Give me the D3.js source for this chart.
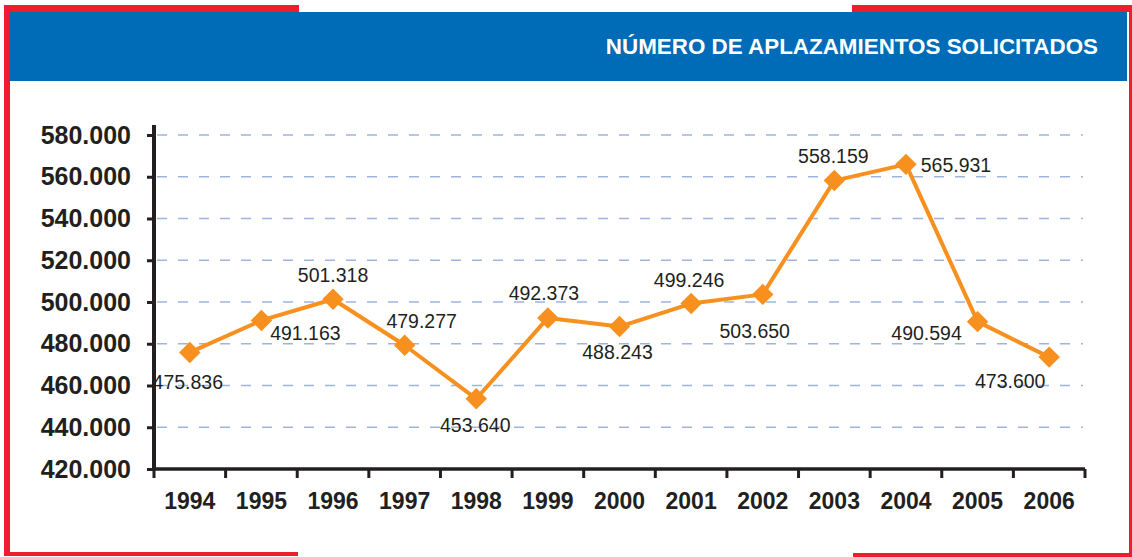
<!DOCTYPE html>
<html>
<head>
<meta charset="utf-8">
<script src="https://cdn.jsdelivr.net/npm/d3@7"></script>
<style>
  html, body { margin: 0; padding: 0; background: #ffffff; }
  svg { display: block; }
</style>
</head>
<body>
<svg id="chart" width="1132" height="557"></svg>
<script>
// ---- data ----
const title = "NÚMERO DE APLAZAMIENTOS SOLICITADOS";
const years = ["1994","1995","1996","1997","1998","1999","2000","2001","2002","2003","2004","2005","2006"];
const requests = [475836, 491163, 501318, 479277, 453640, 492373, 488243, 499246, 503650, 558159, 565931, 490594, 473600];
const valueLabels = ["475.836","491.163","501.318","479.277","453.640","492.373","488.243","499.246","503.650","558.159","565.931","490.594","473.600"];
const yTicks = [420000, 440000, 460000, 480000, 500000, 520000, 540000, 560000, 580000];

// label placement relative to each marker (layout, not data)
const labelDx = [-2, 44, 0, 17, -1, -4, -2, -2, -8, -1, 50, -51, -39];
const labelDy = [37, 20, -17, -17, 33, -18, 32, -17, 44, -18, 8, 18, 31];

(function () {
const svg = d3.select("#chart");
const RED = "#ed1c2e", BLUE = "#006bb6", ORANGE = "#f7901e", INK = "#231f20";
const FONT = "Liberation Sans, Arial, sans-serif";

// ---- frame ----
const frame = svg.append("g");
frame.append("rect").attr("x", 4).attr("y", 5).attr("width", 295).attr("height", 7).attr("fill", RED);
frame.append("rect").attr("x", 852).attr("y", 5).attr("width", 280).attr("height", 7).attr("fill", RED);
frame.append("rect").attr("x", 4).attr("y", 5).attr("width", 6).attr("height", 551).attr("fill", RED);
frame.append("rect").attr("x", 1129).attr("y", 5).attr("width", 3).attr("height", 552).attr("fill", RED);
frame.append("rect").attr("x", 4).attr("y", 552).attr("width", 294).attr("height", 4).attr("fill", RED);
frame.append("rect").attr("x", 853).attr("y", 553).attr("width", 279).attr("height", 4).attr("fill", RED);
frame.append("rect").attr("x", 10).attr("y", 12).attr("width", 1117).attr("height", 69).attr("fill", BLUE);
frame.append("text").attr("x", 1098).attr("y", 54).attr("text-anchor", "end")
  .attr("font-family", FONT).attr("font-weight", "bold")
  .attr("font-size", 22.4).attr("fill", "#ffffff").text(title);

// ---- scales ----
const pLeft = 154, pRight = 1085, pTop = 135, pBottom = 469;
const x = d3.scaleBand().domain(years).range([pLeft, pRight]).padding(0);
const y = d3.scaleLinear().domain([420000, 580000]).range([pBottom, pTop]);
const cx = d => x(d) + x.bandwidth() / 2;

// ---- grid ----
svg.append("g").selectAll("line").data(yTicks.filter(t => t > 420000)).join("line")
  .attr("x1", pLeft + 3).attr("x2", 1083)
  .attr("y1", d => y(d)).attr("y2", d => y(d))
  .attr("stroke", "#9db4de").attr("stroke-width", 1.6).attr("stroke-dasharray", "10,11");

// ---- axes ----
const fmt = d => d3.format(",")(d).replace(/,/g, ".");
const yAxis = svg.append("g").attr("transform", `translate(${pLeft},0)`)
  .call(d3.axisLeft(y).tickValues(yTicks).tickFormat(fmt).tickSize(7).tickPadding(16));
yAxis.select(".domain").attr("stroke", INK).attr("stroke-width", 4).attr("d", `M0,${pTop - 10}V${pBottom}`);
yAxis.selectAll(".tick line").attr("stroke", INK).attr("stroke-width", 3);
yAxis.selectAll(".tick text").attr("fill", INK)
  .attr("font-family", FONT).attr("font-weight", "bold").attr("font-size", 25);

const xAxis = svg.append("g").attr("transform", `translate(0,${pBottom})`)
  .call(d3.axisBottom(x).tickSize(0).tickPadding(24));
xAxis.select(".domain").attr("stroke", INK).attr("stroke-width", 3.5).attr("d", `M${pLeft},0H${pRight}`);
xAxis.selectAll(".tick text").attr("fill", INK)
  .attr("font-family", FONT).attr("font-weight", "bold").attr("font-size", 23);
const bounds = years.map(d => x(d)).concat([pRight]);
xAxis.append("g").selectAll("line").data(bounds).join("line")
  .attr("x1", d => d).attr("x2", d => d).attr("y1", 0).attr("y2", 9)
  .attr("stroke", INK).attr("stroke-width", 3);

// ---- series ----
const pts = years.map((yr, i) => ({ yr, v: requests[i], i }));
svg.append("path").datum(pts)
  .attr("fill", "none").attr("stroke", ORANGE).attr("stroke-width", 4).attr("stroke-linejoin", "round")
  .attr("d", d3.line().x(d => cx(d.yr)).y(d => y(d.v)));

svg.append("g").selectAll("path").data(pts).join("path")
  .attr("d", d3.symbol().type(d3.symbolSquare).size(230))
  .attr("transform", d => `translate(${cx(d.yr)},${y(d.v)}) rotate(45)`)
  .attr("fill", ORANGE);

svg.append("g").selectAll("text").data(pts).join("text")
  .attr("x", d => cx(d.yr) + labelDx[d.i])
  .attr("y", d => y(d.v) + labelDy[d.i])
  .attr("text-anchor", "middle")
  .attr("font-family", FONT).attr("font-size", 19.5)
  .attr("fill", INK)
  .text(d => valueLabels[d.i]);
})();
</script>
</body>
</html>
